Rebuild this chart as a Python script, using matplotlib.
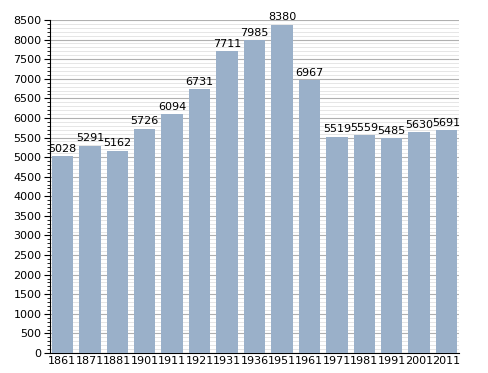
import numpy as np
import matplotlib.pyplot as plt
from matplotlib.ticker import MultipleLocator

years = ['1861', '1871', '1881', '1901', '1911', '1921', '1931', '1936',
         '1951', '1961', '1971', '1981', '1991', '2001', '2011']
population = [5028, 5291, 5162, 5726, 6094, 6731, 7711, 7985,
              8380, 6967, 5519, 5559, 5485, 5630, 5691]

plt.rcParams.update({
    'font.family': 'DejaVu Sans',
    'font.size': 8,
})

fig = plt.figure(figsize=(4.88, 3.73), dpi=100)
ax = fig.add_axes([0.1025, 0.0536, 0.838, 0.8928])

x = np.arange(len(years))
bars = ax.bar(x, population, width=0.78, color='#9ab0c9', zorder=3)
for xi, v in zip(x, population):
    ax.text(xi, v + 60, str(v), ha='center', va='bottom', fontsize=8, zorder=4)

ax.set_xlim(-0.45, len(years) - 0.55)
ax.set_ylim(0, 8500)
ax.set_xticks(x)
ax.set_xticklabels(years)
ax.tick_params(axis='x', length=0, pad=2)
ax.yaxis.set_major_locator(MultipleLocator(500))
ax.yaxis.set_minor_locator(MultipleLocator(100))
ax.tick_params(axis='y', which='major', length=4, width=0.8, pad=2)
ax.tick_params(axis='y', which='minor', length=2, width=0.6)
ax.grid(axis='y', which='major', color='#b0b0b0', linewidth=0.8, zorder=0)
ax.grid(axis='y', which='minor', color='#e2e2e2', linewidth=0.6, zorder=0)

for side in ['top', 'right']:
    ax.spines[side].set_visible(False)
ax.spines['left'].set_linewidth(0.8)
ax.spines['bottom'].set_linewidth(0.8)

fig.savefig('out.png', dpi=100)
